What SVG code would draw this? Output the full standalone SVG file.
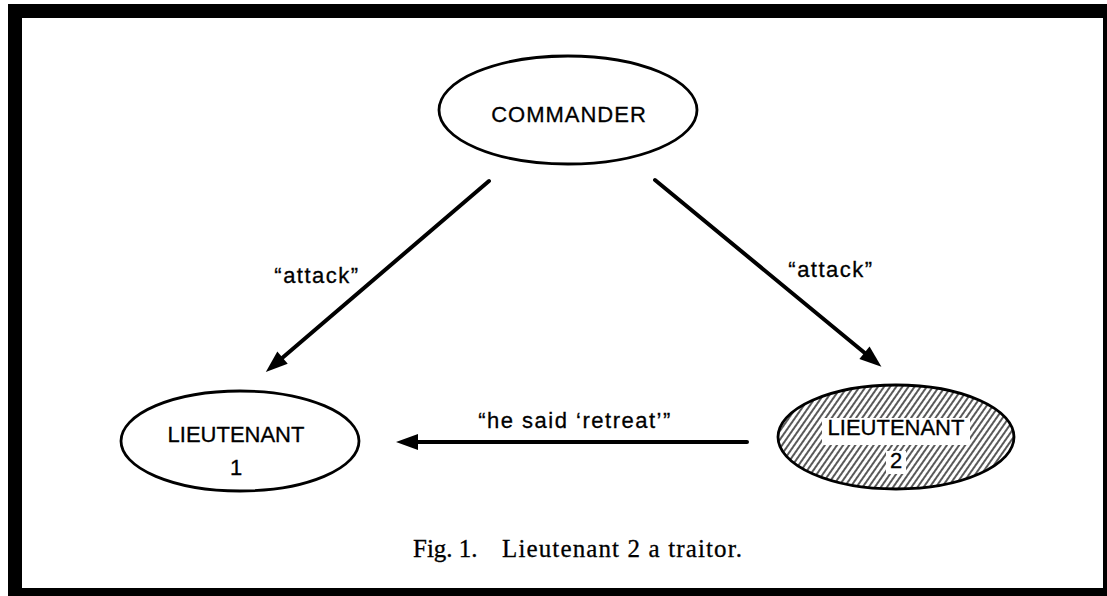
<svg xmlns="http://www.w3.org/2000/svg" width="1107" height="596" viewBox="0 0 1107 596">
  <style>
    .node { fill: #fff; stroke: #000; stroke-width: 2.8; }
    .label { font-family: "Liberation Sans", Arial, sans-serif; font-size: 22px; fill: #000; stroke: #000; stroke-width: 0.3; text-anchor: middle; }
    .edge { stroke: #000; stroke-width: 4; fill: none; stroke-linecap: round; marker-end: url(#head); }
    .caption { font-family: "Liberation Serif", "Times New Roman", serif; font-size: 25px; fill: #000; stroke: #000; stroke-width: 0.3; }
  </style>
  <defs>
    <marker id="head" markerUnits="userSpaceOnUse" markerWidth="30" markerHeight="20" refX="2" refY="8" orient="auto" overflow="visible">
      <path d="M0,0 L22,8 L0,16 z" fill="#000"/>
    </marker>
    <!-- diagonal shading for the traitor node -->
    <pattern id="hatch" patternUnits="userSpaceOnUse" width="5" height="10" patternTransform="rotate(35)">
      <line x1="1" y1="0" x2="1" y2="10" stroke="#000" stroke-width="1.3"/>
    </pattern>
  </defs>

  <!-- page frame -->
  <rect x="8" y="4" width="1099" height="592" fill="#000"/>
  <rect x="22" y="18" width="1081" height="570" fill="#fff"/>

  <g id="connectors">
    <line class="edge" x1="489" y1="181" x2="281" y2="359"/>
    <line class="edge" x1="655" y1="180" x2="866" y2="354"/>
    <line class="edge" x1="747" y1="442" x2="416" y2="442"/>
    <text class="label" x="317" y="283" letter-spacing="1.5">“attack”</text>
    <text class="label" x="831" y="277" letter-spacing="1.5">“attack”</text>
    <text class="label" x="575" y="428" letter-spacing="1.5">“he said ‘retreat’”</text>
  </g>

  <g id="commander">
    <ellipse class="node" cx="568" cy="110" rx="129" ry="54"/>
    <text class="label" x="569" y="122" font-size="23" letter-spacing="1">COMMANDER</text>
  </g>

  <g id="lieutenant1">
    <ellipse class="node" cx="240" cy="441" rx="119" ry="50"/>
    <text class="label" x="236" y="442">LIEUTENANT</text>
    <text class="label" x="236" y="475">1</text>
  </g>

  <g id="lieutenant2">
    <ellipse cx="896" cy="437" rx="118" ry="52" fill="#fff"/>
    <ellipse cx="896" cy="437" rx="118" ry="52" fill="url(#hatch)" stroke="#000" stroke-width="2.8"/>
    <rect x="822" y="418" width="148" height="27" fill="#fff"/>
    <rect x="886" y="451" width="20" height="23" fill="#fff"/>
    <text class="label" x="896" y="435">LIEUTENANT</text>
    <text class="label" x="896" y="468">2</text>
  </g>

  <g id="caption">
    <text class="caption" x="413" y="557">Fig. 1.</text>
    <text class="caption" x="502" y="557" textLength="240" lengthAdjust="spacing">Lieutenant 2 a traitor.</text>
  </g>
</svg>
